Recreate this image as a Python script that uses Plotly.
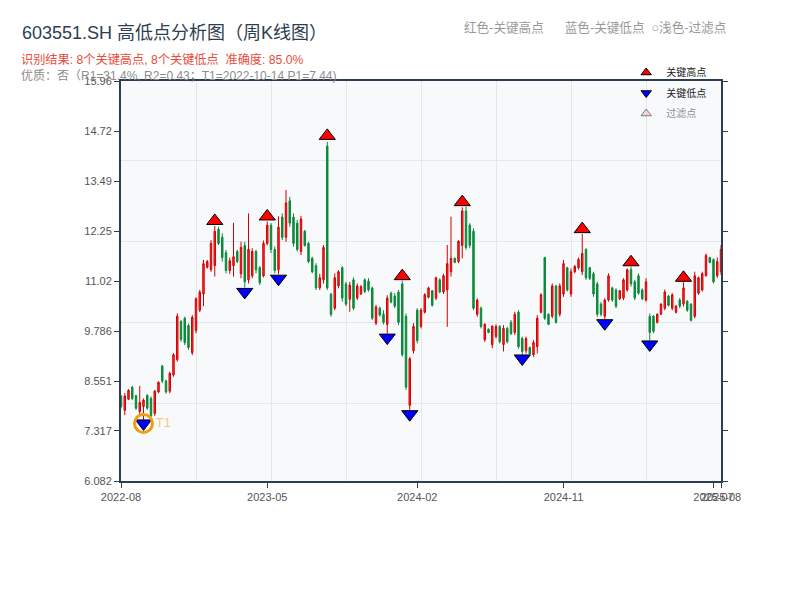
import plotly.graph_objects as go

# ---- weekly OHLC (index 0..160) ----
opens = [8.18,7.83,8.10,8.40,8.19,7.80,7.92,8.20,8.12,7.75,8.28,8.92,8.55,8.30,8.70,9.08,10.02,10.10,9.92,9.25,
         9.80,10.30,10.70,11.36,11.30,11.40,12.30,12.10,11.72,11.28,11.40,11.75,11.20,11.90,11.05,11.15,11.75,11.35,11.15,11.95,
         12.40,11.80,11.30,12.60,12.10,13.00,12.60,12.45,11.75,12.25,11.95,11.58,11.40,10.85,11.05,14.35,10.70,10.35,10.90,11.35,
         10.95,10.57,11.05,10.60,10.70,11.05,11.02,10.85,9.98,10.35,10.20,9.95,10.72,10.65,10.75,10.95,10.15,7.95,9.30,10.30,
         9.90,10.25,10.62,10.78,10.60,11.05,10.75,10.80,11.25,11.58,11.50,11.90,12.75,12.40,12.25,10.20,10.35,9.57,9.83,9.45,
         9.65,9.90,9.45,9.85,10.00,9.75,10.25,9.60,9.30,9.38,9.20,9.40,10.25,11.60,10.20,10.15,10.90,10.20,10.70,11.35,
         10.70,11.25,11.35,11.25,11.80,11.35,11.20,10.95,10.45,10.15,10.55,10.85,10.80,10.58,10.60,10.80,11.30,11.00,11.15,10.80,
         10.55,10.15,10.15,10.00,10.20,10.35,10.65,10.35,10.25,10.55,10.45,10.52,10.45,10.15,10.72,10.80,11.15,11.60,11.55,11.15,
         11.25]
highs = [8.21,8.25,8.35,8.43,8.21,8.43,8.12,8.22,8.17,8.33,8.54,8.95,8.58,8.78,9.24,10.22,10.06,10.14,9.97,10.18,
         10.62,10.80,11.54,11.54,12.03,12.38,12.36,12.20,11.79,11.60,12.46,11.79,11.99,11.99,12.69,11.83,11.79,11.39,12.02,12.49,
         12.45,11.87,12.62,12.69,13.27,13.10,12.69,12.53,12.63,12.28,11.99,11.62,11.46,11.20,11.91,14.46,10.72,11.21,11.29,11.39,
         11.00,11.00,11.11,10.96,10.92,11.09,11.09,10.88,10.43,10.39,10.30,10.67,10.76,10.72,10.80,11.03,10.22,9.15,9.98,10.35,
         10.35,10.72,10.88,10.80,11.13,11.09,11.20,11.91,12.61,11.60,12.03,12.84,12.86,12.45,12.32,10.59,10.39,9.98,9.85,9.93,
         9.95,9.93,9.93,9.89,10.06,10.26,10.30,9.65,9.65,9.40,9.56,10.18,10.72,11.62,10.22,10.96,10.92,10.96,11.54,11.37,
         11.33,11.42,11.60,12.18,11.83,11.37,11.25,11.00,10.50,10.59,11.21,10.88,10.84,10.80,11.09,11.33,11.37,11.05,11.21,10.84,
         11.09,10.22,10.18,10.22,10.47,10.81,10.68,10.72,10.43,10.60,10.99,10.55,10.47,11.25,11.13,11.25,11.70,11.62,11.58,11.60,
         11.91]
lows = [7.88,7.71,8.08,8.08,7.84,7.71,7.58,7.84,7.65,7.69,8.25,8.50,8.24,8.25,8.66,9.03,9.52,9.44,9.32,9.19,
        9.73,10.25,10.40,11.33,11.25,11.13,11.91,11.50,11.21,11.20,11.13,11.46,11.09,10.86,10.96,11.09,11.21,10.92,11.11,11.90,
        11.71,11.21,11.19,12.03,11.99,12.36,11.87,11.75,11.66,11.87,11.46,11.21,10.80,10.80,10.96,10.80,10.14,10.30,10.84,10.51,
        10.40,10.26,10.30,10.55,10.68,10.72,10.76,10.06,9.93,10.14,9.95,9.72,10.47,10.35,9.93,9.15,8.33,7.81,9.23,9.48,
        9.85,10.22,10.59,10.39,10.55,10.72,10.70,9.89,11.13,11.46,11.46,11.58,11.79,11.83,10.30,10.14,9.85,9.52,9.73,9.36,
        9.60,9.48,9.28,9.48,9.69,9.69,9.35,9.20,9.23,9.19,9.15,9.23,10.22,10.06,9.93,10.10,9.97,10.14,10.63,10.76,
        10.63,11.21,11.30,11.17,11.05,11.05,10.63,10.14,10.15,10.08,10.51,10.51,10.35,10.55,10.55,10.76,10.88,10.55,10.68,10.55,
        10.51,9.55,9.73,9.97,10.18,10.30,10.39,10.30,10.22,10.35,10.39,10.26,10.02,10.10,10.68,10.76,11.13,11.46,10.96,11.10,
        11.17]
closes = [7.92,8.18,8.32,8.12,7.88,8.02,8.08,7.88,7.70,8.30,8.52,8.55,8.28,8.74,9.20,10.15,9.58,9.50,9.38,10.12,
          10.58,10.75,11.45,11.50,11.95,12.25,11.95,11.60,11.28,11.52,11.62,11.50,11.85,11.00,11.80,11.75,11.30,10.98,11.95,12.40,
          11.80,11.28,12.35,12.10,12.95,12.45,11.95,11.80,12.55,11.90,11.50,11.25,10.85,11.10,11.85,10.85,10.20,11.10,11.25,10.60,
          10.45,10.92,10.35,10.90,10.88,10.76,10.80,10.10,10.38,10.18,10.00,10.60,10.50,10.40,10.00,9.20,8.40,9.10,9.90,9.55,
          10.30,10.68,10.85,10.42,11.10,10.75,11.15,11.45,11.58,11.48,12.00,12.75,11.85,11.90,10.35,10.55,9.90,9.95,9.75,9.90,
          9.90,9.52,9.85,9.52,9.72,10.20,9.40,9.28,9.60,9.22,9.50,10.10,10.68,10.10,9.95,10.90,10.00,10.90,11.45,10.80,
          11.25,11.38,11.55,11.70,11.10,11.08,10.70,10.20,10.20,10.55,11.15,10.55,10.40,10.78,11.05,11.30,10.95,10.60,10.72,10.58,
          11.00,9.75,9.78,10.20,10.45,10.75,10.42,10.68,10.40,10.40,10.85,10.30,10.05,11.15,11.10,11.20,11.65,11.48,11.00,11.50,
          11.80]

high_idx = [25, 39, 55, 75, 91, 123, 136, 150]
low_idx = [6, 33, 42, 71, 77, 107, 129, 141]
t1_idx = 6

x_tick_idx = [0, 39, 79, 118, 158, 160]
x_tick_text = ["2022-08", "2023-05", "2024-02", "2024-11", "2025-07", "2025-08"]
y_tick_vals = [6.082, 7.317, 8.551, 9.786, 11.02, 12.25, 13.49, 14.72, 15.96]
y_tick_text = ["6.082", "7.317", "8.551", "9.786", "11.02", "12.25", "13.49", "14.72", "15.96"]

FONT = "Liberation Sans, Noto Sans CJK SC, sans-serif"
idx = list(range(len(opens)))

fig = go.Figure()
fig.add_trace(go.Candlestick(
    x=idx, open=opens, high=highs, low=lows, close=closes,
    increasing=dict(line=dict(color="#d40000", width=1), fillcolor="#ff3030"),
    decreasing=dict(line=dict(color="#0a8a3a", width=1), fillcolor="#0a8a3a"),
    whiskerwidth=0, showlegend=False, hoverinfo="skip"))

fig.add_trace(go.Scatter(
    x=high_idx, y=[highs[i] * 1.01 for i in high_idx], mode="markers", name="关键高点",
    showlegend=False,
    marker=dict(symbol="triangle-up", size=14, color="#ff0000", line=dict(color="black", width=1))))
fig.add_trace(go.Scatter(
    x=low_idx, y=[lows[i] * 0.99 for i in low_idx], mode="markers", name="关键低点",
    showlegend=False,
    marker=dict(symbol="triangle-down", size=14, color="#0000ff", line=dict(color="black", width=1))))
fig.add_trace(go.Scatter(
    x=[t1_idx], y=[lows[t1_idx] * 0.99], mode="markers+text", text=["T1"],
    textposition="middle right", textfont=dict(color="rgba(243,156,18,0.55)", size=13, family=FONT),
    marker=dict(symbol="circle-open", size=18, color="#f39c12", line=dict(width=3)),
    showlegend=False, hoverinfo="skip"))

# legend entries
fig.add_trace(go.Scatter(x=[None], y=[None], mode="markers", name="关键高点", legendgroup="a",
                         marker=dict(symbol="triangle-up", size=9, color="#ff0000",
                                     line=dict(color="black", width=1))))
fig.add_trace(go.Scatter(x=[None], y=[None], mode="markers", name="关键低点", legendgroup="b",
                         marker=dict(symbol="triangle-down", size=9, color="#0000ff",
                                     line=dict(color="black", width=1))))
fig.add_trace(go.Scatter(x=[None], y=[None], mode="markers", name="过滤点", visible="legendonly",
                         legendgroup="c",
                         marker=dict(symbol="triangle-up", size=9, color="#ffb0b0",
                                     line=dict(color="black", width=1))))

axis_col = "#2c3e50"
# page has an 8px body margin: plot area sits at page x 121..721, y 81..481
fig.update_layout(
    width=792, height=592,
    margin=dict(l=113, r=79, t=73, b=119),
    paper_bgcolor="white", plot_bgcolor="#f7f9fb",
    font=dict(family=FONT, size=11, color="#444"),
    boxgap=0.45,
    showlegend=True,
    legend=dict(x=0.842, y=1.0575, xanchor="left", yanchor="top", bgcolor="rgba(0,0,0,0)",
                font=dict(size=10, color="#222", family=FONT), tracegroupgap=1.5),
    xaxis=dict(range=[0, len(opens) - 1], rangeslider=dict(visible=False), automargin=False,
               tickmode="array", tickvals=x_tick_idx, ticktext=x_tick_text, tickangle=0,
               showgrid=False, showline=True, linecolor=axis_col, linewidth=2, mirror=True,
               ticks="outside", ticklen=5, tickcolor=axis_col, zeroline=False,
               tickfont=dict(size=11, color="#555"),
               minor=dict(dtick=20, tick0=0, showgrid=True, gridcolor="#e3e7ec", gridwidth=1, ticks="")),
    yaxis=dict(range=[6.082, 15.96], tickmode="array", tickvals=y_tick_vals, ticktext=y_tick_text,
               automargin=False,
               showgrid=False, showline=True, linecolor=axis_col, linewidth=2, mirror="ticks",
               ticks="outside", ticklen=5, tickcolor=axis_col, zeroline=False,
               tickfont=dict(size=11, color="#555"),
               minor=dict(dtick=2, tick0=0, showgrid=True, gridcolor="#e3e7ec", gridwidth=1, ticks="")),
)

def px_x(p):
    return (p - 121) / 600

def px_y(p):
    return (481 - p) / 400

fig.add_annotation(text="603551.SH 高低点分析图（周K线图）", xref="paper", yref="paper",
                   x=px_x(20), y=px_y(33), xanchor="left", yanchor="middle", showarrow=False,
                   font=dict(size=18, color="#2c3e50", family=FONT))
fig.add_annotation(text="识别结果: 8个关键高点, 8个关键低点  准确度: 85.0%", xref="paper", yref="paper",
                   x=px_x(19), y=px_y(59), xanchor="left", yanchor="middle",
                   showarrow=False, font=dict(size=12.2, color="#e74c3c", family=FONT))
fig.add_annotation(text="优质：否（R1=31.4%, R2=0.43；T1=2022-10-14 P1=7.44)", xref="paper", yref="paper",
                   x=px_x(19), y=px_y(76), xanchor="left", yanchor="middle",
                   showarrow=False, font=dict(size=12, color="#8c8c8c", family=FONT))
fig.add_annotation(text="红色-关键高点      蓝色-关键低点  ○浅色-过滤点", xref="paper", yref="paper",
                   x=px_x(728), y=px_y(28), xanchor="right", yanchor="middle",
                   showarrow=False, font=dict(size=12.6, color="#999999", family=FONT))

fig.write_html("out.html")
